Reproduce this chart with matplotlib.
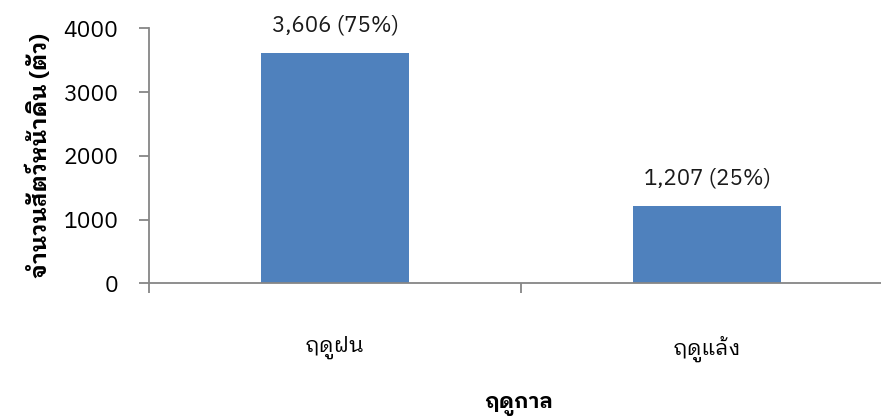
import matplotlib
matplotlib.use("Agg")
import matplotlib.pyplot as plt

seasons = ["ฤดูฝน", "ฤดูแล้ง"]
counts = [3606, 1207]
percents = [75, 25]
yticks = [0, 1000, 2000, 3000, 4000]

plt.rcParams["font.family"] = ["IBM Plex Sans Thai Looped", "DejaVu Sans"]

fig = plt.figure(figsize=(8.81, 4.19), dpi=100)
ax = fig.add_axes([149 / 881, 135.7 / 419, 1 - 149 / 881, (390.7 - 135.7) / 419])

x = list(range(len(seasons)))
ax.bar(x, counts, width=0.4, color="#4F81BD")
for xi, c, p in zip(x, counts, percents):
    ax.text(xi, c + 260, f"{c:,} ({p}%)", ha="center", va="bottom", fontsize=16, color="#1a1a1a")

ax.set_xlim(-0.5, (881 - 335) / 372)
ax.set_ylim(0, 4000)
ax.set_yticks(yticks)
ax.set_xticks(x)
ax.set_xticklabels(seasons, fontsize=15.5)
ax.set_xticks([-0.5, 0.5], minor=True)
ax.tick_params(axis="x", which="major", length=0, pad=38)
ax.tick_params(axis="x", which="minor", length=7, color="#868686", width=1.3)
ax.tick_params(axis="y", length=7, color="#868686", width=1.3, labelsize=16.5, pad=15)

for s in ["top", "right"]:
    ax.spines[s].set_visible(False)
for s in ["left", "bottom"]:
    ax.spines[s].set_color("#868686")
    ax.spines[s].set_linewidth(1.3)

fig.text(519 / 881, 1 - 406 / 419, "ฤดูกาล", fontsize=15, fontweight="bold", ha="center", va="center")
ax.set_ylabel("จำนวนสัตว์หน้าดิน (ตัว)", fontsize=16.5, fontweight="bold", labelpad=9)

fig.savefig("out.png", dpi=100)
